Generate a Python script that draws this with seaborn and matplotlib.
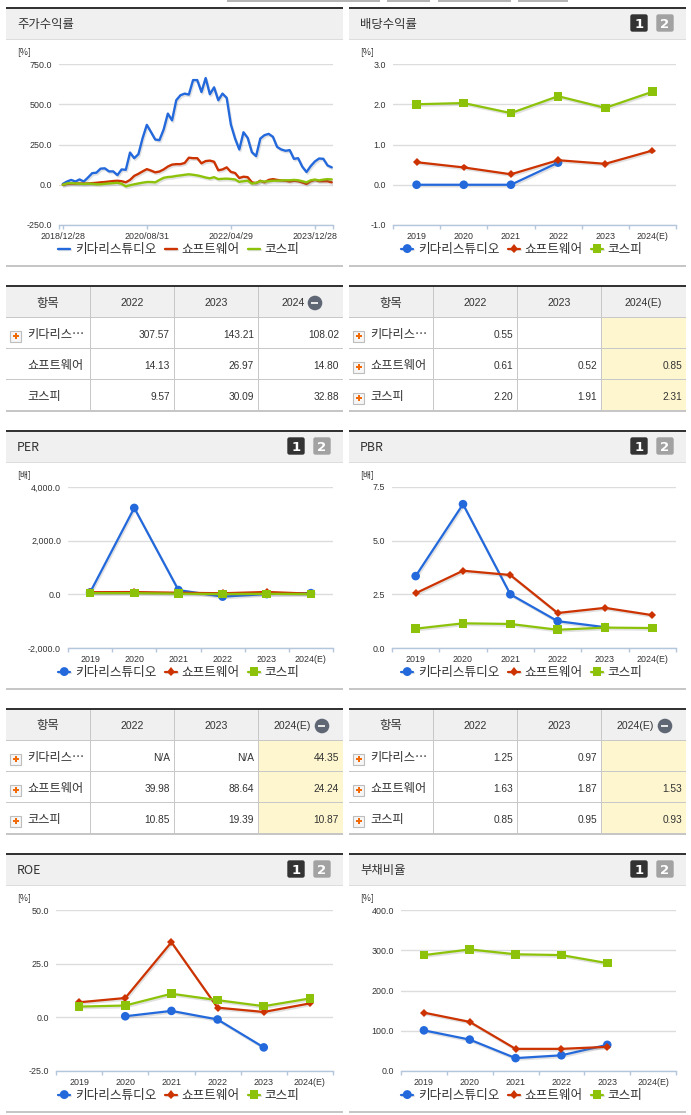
import numpy as np
import pandas as pd
import matplotlib
matplotlib.use("Agg")
import matplotlib.pyplot as plt
import matplotlib.patheffects as pe
from matplotlib.patches import Rectangle, FancyBboxPatch, Circle
import seaborn as sns

# ---------- data ----------
SERIES = ["키다리스튜디오", "쇼프트웨어", "코스피"]
YEARS = ["2019", "2020", "2021", "2022", "2023", "2024(E)"]
NA = float("nan")

price_labels = ["2018/12/28", "2020/08/31", "2022/04/29", "2023/12/28"]
price_blue = [5, 20, 30, 20, 33, 20, 45, 72, 75, 100, 102, 83, 83, 60, 95, 93, 200, 165, 190, 290, 372, 327,
              281, 277, 343, 442, 400, 525, 556, 566, 560, 650, 650, 576, 663, 562, 605, 525, 566, 540, 374,
              287, 219, 326, 291, 202, 178, 287, 308, 316, 298, 235, 219, 211, 215, 161, 165, 112, 79, 116,
              145, 163, 161, 120, 108]
price_red = [0, 5, 7, 7, 8, 7, 8, 10, 12, 15, 17, 20, 23, 25, 22, 15, 30, 55, 68, 83, 97, 88, 77, 82, 95, 113,
             125, 128, 128, 135, 168, 165, 165, 133, 147, 150, 143, 90, 95, 108, 80, 73, 42, 50, 47, 15, 10,
             25, 15, 30, 35, 30, 27, 25, 20, 25, 22, 14, 5, 22, 30, 22, 22, 22, 15]
price_green = [0, 8, 10, 8, 7, 5, 7, 6, 3, 3, 6, 8, 10, 12, 6, -10, -3, 3, 8, 13, 17, 17, 15, 30, 43, 48, 50,
               55, 58, 62, 65, 62, 58, 52, 45, 40, 47, 35, 37, 38, 36, 33, 18, 22, 25, 7, 12, 22, 20, 22, 25,
               25, 27, 28, 28, 30, 28, 22, 15, 28, 32, 27, 32, 35, 33]

div_blue = [0.0, 0.0, 0.0, 0.55, NA, NA]
div_red = [0.56, 0.43, 0.26, 0.61, 0.52, 0.85]
div_green = [2.00, 2.03, 1.78, 2.20, 1.91, 2.31]

per_blue = [70, 3220, 160, -86, 10, 44.35]
per_red = [80, 85, 60, 39.98, 88.64, 24.24]
per_green = [45, 45, 25, 10.85, 19.39, 10.87]

pbr_blue = [3.35, 6.70, 2.50, 1.25, 0.97, NA]
pbr_red = [2.55, 3.60, 3.40, 1.63, 1.87, 1.53]
pbr_green = [0.90, 1.15, 1.12, 0.85, 0.95, 0.93]

roe_blue = [NA, 0.5, 3.0, -1.0, -14.0, NA]
roe_red = [7.0, 9.0, 35.0, 4.5, 2.5, 6.5]
roe_green = [5.0, 5.5, 11.0, 8.0, 5.2, 8.8]

debt_blue = [101, 78, 32, 39, 65, NA]
debt_red = [145, 122, 55, 55, 60, NA]
debt_green = [288, 302, 290, 288, 268, NA]

tbl1_left_cols = ["2022", "2023", "2024"]
tbl1_left_names = ["키다리스…", "쇼프트웨어", "코스피"]
tbl1_left_vals = [["307.57", "143.21", "108.02"], ["14.13", "26.97", "14.80"], ["9.57", "30.09", "32.88"]]
tbl1_right_cols = ["2022", "2023", "2024(E)"]
tbl1_right_vals = [["0.55", "", ""], ["0.61", "0.52", "0.85"], ["2.20", "1.91", "2.31"]]
tbl2_left_vals = [["N/A", "N/A", "44.35"], ["39.98", "88.64", "24.24"], ["10.85", "19.39", "10.87"]]
tbl2_right_vals = [["1.25", "0.97", ""], ["1.63", "1.87", "1.53"], ["0.85", "0.95", "0.93"]]

# ---------- style ----------
W, H = 691, 1115
sns.set_theme(style="white")
KR = ["Noto Sans CJK KR", "DejaVu Sans"]
LAT = "Liberation Sans"
plt.rcParams["font.family"] = KR
BLUE, RED, GREEN = "#2369dc", "#cc3300", "#8cc30a"
PALETTE = dict(zip(SERIES, [BLUE, RED, GREEN]))
TXT = "#333333"
GRID = "#dcdcdc"
AXC = "#b4c6dc"
TICKFS = 6.4

fig = plt.figure(figsize=(W / 100, H / 100), dpi=100, facecolor="white")
bg = fig.add_axes([0, 0, 1, 1], zorder=0)
bg.set_xlim(0, W)
bg.set_ylim(H, 0)
bg.axis("off")


def rect(x0, y0, x1, y1, color, z=1):
    bg.add_patch(Rectangle((x0, y0), x1 - x0, y1 - y0, fc=color, ec="none", zorder=z))


def button(x, y, label, color):
    bg.add_patch(FancyBboxPatch((x + 1, y + 1), 16, 16, boxstyle="round,pad=0,rounding_size=1.5",
                                fc=color, ec=color, lw=1, zorder=3))
    bg.text(x + 9, y + 9, label, ha="center", va="center_baseline", color="white", fontsize=9.5,
            fontweight="bold", family="DejaVu Sans", zorder=4)


def panel(x0, x1, top, hdr, bottom, title, buttons=True):
    rect(x0, top, x1, top + 2, "#333333", 2)
    rect(x0, top + 2, x1, hdr, "#f0f0f0")
    rect(x0, hdr, x1, hdr + 1, "#dddddd")
    rect(x0, bottom, x1, bottom + 2, "#c6c6c6")
    bg.text(x0 + 11, (top + hdr) / 2 + 1.5, title, ha="left", va="center", fontsize=8.9, color=TXT, zorder=4)
    if buttons:
        button(x1 - 56, top + 7, "1", "#333333")
        button(x1 - 30, top + 7, "2", "#a2a2a2")


def plus_icon(x, y):
    bg.add_patch(Rectangle((x + 0.5, y - 5.5), 11, 11, fc="#f6f6f6", ec="#bdbdbd", lw=0.8, zorder=3))
    rect(x + 3, y - 1, x + 9, y + 1, "#f06a0a", 4)
    rect(x + 5, y - 3, x + 7, y + 3, "#f06a0a", 4)


def minus_icon(x, y):
    bg.add_patch(Circle((x, y), 7.3, fc="#5f6674", ec="none", zorder=3))
    rect(x - 3.5, y - 1, x + 3.5, y + 1, "#e8e8e8", 4)


def table(x0, cols, top, row_h, col_names, vals, icons, yellow=True, minus=None):
    x1 = cols[-1]
    hdr = top + 32
    rect(x0, top, x1, top + 2, "#333333", 2)
    rect(x0, top + 2, x1, hdr, "#f0f0f0")
    if yellow:
        rect(cols[2], hdr, x1, hdr + 3 * row_h, "#fdf6cf")
    for i in range(1, 3):
        rect(x0, hdr + i * row_h, x1, hdr + i * row_h + 1, "#c8c8c8", 2)
    rect(x0, hdr, x1, hdr + 1, "#c8c8c8", 2)
    rect(x0, hdr + 3 * row_h, x1, hdr + 3 * row_h + 2, "#c6c6c6", 2)
    for c in cols[:3]:
        rect(c, top + 2, c + 1, hdr + 3 * row_h, "#c8c8c8", 2)
    ymid = (top + 2 + hdr) / 2 + 1
    bg.text((x0 + cols[0]) / 2, ymid, "항목", ha="center", va="center", fontsize=8.9, color=TXT, zorder=4)
    for j, name in enumerate(col_names):
        cx = (cols[j] + cols[j + 1]) / 2
        if minus is not None and j == 2:
            cx = minus[0]
        bg.text(cx, ymid, name, ha="center", va="center", fontsize=7.6, color=TXT, family=LAT, zorder=4)
    if minus is not None:
        minus_icon(minus[1], ymid)
    for r, name in enumerate(tbl1_left_names):
        yc = hdr + (r + 0.5) * row_h + 2.5
        if icons[r]:
            plus_icon(x0 + 4, yc + 1)
        bg.text(x0 + 21, yc - 0.5, name, ha="left", va="center", fontsize=8.8, color=TXT, zorder=4)
        for j, v in enumerate(vals[r]):
            bg.text(cols[j + 1] - 4, yc, v, ha="right", va="center", fontsize=7.3, color=TXT,
                    family=LAT, zorder=4)


def chart(x0, x1, ytop, ybot, ylim, yticks, fmt, unit, unit_x, frame, xticks, xlabels, xlim, edges):
    ax = fig.add_axes([x0 / W, 1 - ybot / H, (x1 - x0) / W, (ybot - ytop) / H], zorder=5)
    ax.patch.set_alpha(0)
    style = frame.attrs.get("lined", False)
    shadow = [pe.SimpleLineShadow(offset=(0.8, -1.2), shadow_color="#777777", alpha=0.22), pe.Normal()]
    if style:
        sns.lineplot(data=frame, x="x", y="value", hue="series", palette=PALETTE, hue_order=SERIES,
                     estimator=None, sort=False, lw=1.7, ax=ax, legend="auto")
    else:
        sns.lineplot(data=frame, x="x", y="value", hue="series", style="series", hue_order=SERIES,
                     style_order=SERIES, palette=PALETTE, dashes=False,
                     markers=dict(zip(SERIES, ["o", "D", "s"])), estimator=None, sort=False,
                     lw=1.6, ax=ax, legend="auto", markeredgewidth=0)
        sizes = {BLUE: 6.2, RED: 4.0, GREEN: 6.2}
        for ln in ax.get_lines():
            c = matplotlib.colors.to_hex(ln.get_color())
            for k, s in sizes.items():
                if c == k.lower():
                    ln.set_markersize(s)
    for ln in ax.get_lines():
        ln.set_path_effects(shadow)
    handles, labels = ax.get_legend_handles_labels()
    if not style:
        for h in handles:
            c = matplotlib.colors.to_hex(h.get_color())
            h.set_markersize({BLUE: 6.4, RED: 4.2, GREEN: 6.2}[c])
    ax.legend(handles, labels, ncol=3, frameon=False, loc="center",
              bbox_to_anchor=((x0_panel(x0) + 173) / W, 1 - (ybot + 24.5) / H), bbox_transform=fig.transFigure,
              handlelength=0.95, handletextpad=0.4, columnspacing=0.63, fontsize=9.1,
              labelcolor="#333333", borderpad=0, borderaxespad=0)
    ax.set_xlim(*xlim)
    ax.set_ylim(*ylim)
    ax.set_xlabel("")
    ax.set_ylabel("")
    ax.set_yticks(yticks)
    ax.set_yticklabels([fmt.format(v) for v in yticks], family=LAT, fontsize=TICKFS, color=TXT)
    ax.grid(axis="y", color=GRID, lw=1)
    ax.grid(axis="x", visible=False)
    ax.set_axisbelow(True)
    ax.tick_params(axis="y", left=False, length=0, pad=5)
    ax.set_xticks(edges, minor=True)
    ax.set_xticks(xticks)
    ax.set_xticklabels(xlabels, family=LAT, fontsize=TICKFS, color=TXT)
    if frame.attrs.get("lined", False):
        ax.tick_params(axis="x", which="both", bottom=True, length=3, width=1, color=AXC, pad=1.8)
    else:
        ax.tick_params(axis="x", which="major", bottom=False, length=0, pad=4.8)
        ax.tick_params(axis="x", which="minor", bottom=True, length=3, width=1, color=AXC)
    for s in ["top", "right", "left"]:
        ax.spines[s].set_visible(False)
    ax.spines["bottom"].set_color(AXC)
    ax.spines["bottom"].set_linewidth(1)
    bg.text(unit_x, ytop - 12, unit, ha="left", va="center", fontsize=6.3, color=TXT, zorder=4)
    return ax


def x0_panel(x):
    return 6 if x < 345 else 349


def annual(blue, red, green):
    rows = []
    for name, vals in zip(SERIES, [blue, red, green]):
        for i, v in enumerate(vals):
            rows.append({"x": i, "series": name, "value": v})
    return pd.DataFrame(rows)


def annual_chart(x0, ytop, ybot, ylim, yticks, fmt, unit, unit_x, b, r, g):
    return chart(x0, 676 if x0 > 345 else 333, ytop, ybot, ylim, yticks, fmt, unit, unit_x, annual(b, r, g),
                 list(range(6)), YEARS, (-0.5, 5.5), [i - 0.5 for i in range(7)])


# ---------- top stray tabs ----------
for a, b_ in [(227, 380), (387, 430), (438, 511), (518, 568)]:
    rect(a, 0, b_, 1.5, "#b4b4b4")

# ---------- panels ----------
panel(6, 343, 7, 39, 265, "주가수익률", buttons=False)
panel(349, 686, 7, 39, 265, "배당수익률")
panel(6, 343, 430, 462, 688, "PER")
panel(349, 686, 430, 462, 688, "PBR")
panel(6, 343, 853, 885, 1111, "ROE")
panel(349, 686, 853, 885, 1111, "부채비율")

price = pd.DataFrame({"x": list(range(len(price_blue))) * 3,
                      "series": np.repeat(SERIES, len(price_blue)),
                      "value": price_blue + price_red + price_green})
price.attrs["lined"] = True
chart(59, 333, 64, 225, (-250, 750), [-250, 0, 250, 500, 750], "{:.1f}", "[%]", 17, price,
      [0, 20, 40, 60], price_labels, (-0.9, 64.3), [-0.9, 64.3])

annual_chart(393, 64, 225, (-1, 3), [-1, 0, 1, 2, 3], "{:.1f}", "[%]", 360, div_blue, div_red, div_green)
annual_chart(68, 487, 648, (-2000, 4000), [-2000, 0, 2000, 4000], "{:,.1f}", "[배]", 17, per_blue, per_red, per_green)
annual_chart(392, 487, 648, (0, 7.5), [0, 2.5, 5.0, 7.5], "{:.1f}", "[배]", 360, pbr_blue, pbr_red, pbr_green)
annual_chart(56, 910, 1071, (-25, 50), [-25, 0, 25, 50], "{:.1f}", "[%]", 17, roe_blue, roe_red, roe_green)
annual_chart(401, 910, 1071, (0, 400), [0, 100, 200, 300, 400], "{:.1f}", "[%]", 360, debt_blue, debt_red, debt_green)

# ---------- tables ----------
LC = [90, 174, 258, 343]
RC = [433, 517, 601, 686]
table(6, LC, 285, 31, tbl1_left_cols, tbl1_left_vals, [True, False, False], yellow=False, minus=(293, 315))
table(349, RC, 285, 31, tbl1_right_cols, tbl1_right_vals, [True, True, True])
table(6, LC, 708, 31, tbl1_right_cols, tbl2_left_vals, [True, True, True], minus=(292, 322))
table(349, RC, 708, 31, tbl1_right_cols, tbl2_right_vals, [True, True, True], minus=(635, 665))

fig.savefig("out.png", dpi=100, facecolor="white")
